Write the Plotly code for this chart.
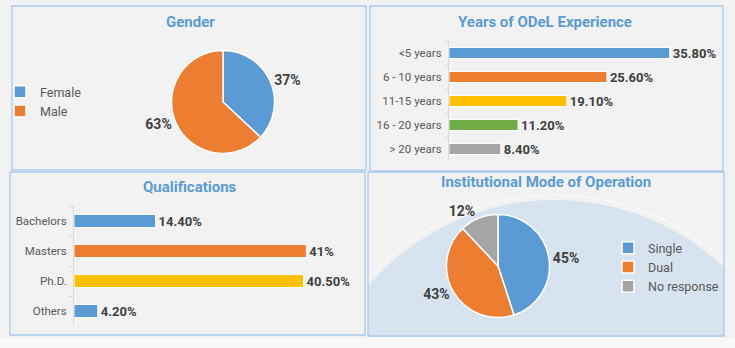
import numpy as np
import plotly.graph_objects as go

W, H = 735, 348

# ---- data ----
gender_labels = ["Female", "Male"]
gender_values = [37, 63]

years_cats = ["<5 years", "6 - 10 years", "11-15 years", "16 - 20 years", "> 20 years"]
years_vals = [35.80, 25.60, 19.10, 11.20, 8.40]

qual_cats = ["Bachelors", "Masters", "Ph.D.", "Others"]
qual_vals = [14.40, 41, 40.50, 4.20]

mode_labels = ["Single", "Dual", "No response"]
mode_values = [45, 43, 12]

# ---- styling ----
BLUE, ORANGE, GOLD, GREEN, GREY = "#5b9bd5", "#ed7d31", "#ffc000", "#70ad47", "#a5a5a5"
BG = "#f2f2f2"
BORDER = "#a9c9ea"
TITLE_C = "#5b9bd5"
LABEL_C = "#404040"
TICK_C = "#595959"
FONT = "Roboto"


def fx(p):
    return p / W


def fy(p):
    return 1 - p / H


def pct(v):
    return f"{v:g}%" if float(v).is_integer() else f"{v:.2f}%"


fig = go.Figure()

# Gender pie
fig.add_trace(go.Pie(
    labels=gender_labels, values=gender_values,
    marker=dict(colors=[BLUE, ORANGE], line=dict(color="white", width=1.5)),
    sort=False, direction="clockwise", rotation=0,
    text=[pct(v) for v in gender_values], textinfo="text",
    textposition="outside",
    textfont=dict(family=FONT, size=14, color=LABEL_C, weight="bold"),
    domain=dict(x=[fx(171.5), fx(274.5)], y=[fy(153.5), fy(50.5)]),
    legend="legend", hoverinfo="label+percent",
))

# Institutional mode pie
fig.add_trace(go.Pie(
    labels=mode_labels, values=mode_values,
    marker=dict(colors=[BLUE, ORANGE, GREY], line=dict(color="white", width=1.5)),
    sort=False, direction="clockwise", rotation=0,
    text=[pct(v) for v in mode_values], textinfo="text",
    textposition="outside",
    textfont=dict(family=FONT, size=14, color=LABEL_C, weight="bold"),
    domain=dict(x=[fx(446.5), fx(549.5)], y=[fy(317.5), fy(214.5)]),
    legend="legend2", hoverinfo="label+percent",
))

# Years of ODeL experience bars
fig.add_trace(go.Bar(
    y=years_cats, x=years_vals, orientation="h", width=0.46,
    marker=dict(color=[BLUE, ORANGE, GOLD, GREEN, GREY], line=dict(color="white", width=1)),
    text=[pct(v) for v in years_vals], textposition="outside", cliponaxis=False,
    constraintext="none",
    textfont=dict(family=FONT, size=13, color=LABEL_C, weight="bold"),
    xaxis="x", yaxis="y", showlegend=False,
))

# Qualifications bars
fig.add_trace(go.Bar(
    y=qual_cats, x=qual_vals, orientation="h", width=0.44,
    marker=dict(color=[BLUE, ORANGE, GOLD, BLUE], line=dict(color="white", width=1)),
    text=[pct(v) for v in qual_vals], textposition="outside", cliponaxis=False,
    constraintext="none",
    textfont=dict(family=FONT, size=13, color=LABEL_C, weight="bold"),
    xaxis="x2", yaxis="y2", showlegend=False,
))

cat_axis = dict(
    autorange="reversed", showline=True, linecolor="#d9d9d9", linewidth=1,
    ticks="outside", tickson="boundaries", ticklen=4, tickcolor="#d9d9d9",
    tickfont=dict(family=FONT, size=11.5, color=TICK_C), ticklabelstandoff=4,
    showgrid=False, zeroline=False, fixedrange=True,
)
val_axis = dict(visible=False, showgrid=False, zeroline=False, fixedrange=True)

# ---- decorative blue dome behind the lower-right panel ----
cx, cy, R = 555, 446, 246
x0, x1, ybot = 368, 724, 336
xs = np.linspace(x0, x1, 120)
ys = cy - np.sqrt(R ** 2 - (xs - cx) ** 2)
pts = [(x0, ybot)] + list(zip(xs, ys)) + [(x1, ybot)]
dome = "M " + " L ".join(f"{fx(a):.5f},{fy(b):.5f}" for a, b in pts) + " Z"
arc_r = R + 5
xs2 = np.linspace(x0 + 8, x1, 120)
ys2 = cy - np.sqrt(np.clip(arc_r ** 2 - (xs2 - cx) ** 2, 0, None))
arc = "M " + " L ".join(f"{fx(a):.5f},{fy(b):.5f}" for a, b in zip(xs2, ys2) if b < ybot)

shapes = [
    dict(type="rect", xref="paper", yref="paper", x0=0, x1=1, y0=0, y1=fy(338),
         fillcolor="#f8f8f8", line=dict(width=0), layer="below"),
    dict(type="path", xref="paper", yref="paper", path=dome,
         fillcolor="rgba(160,198,234,0.32)", line=dict(width=0), layer="below"),
    dict(type="path", xref="paper", yref="paper", path=arc,
         line=dict(color="rgba(255,255,255,0.8)", width=1), layer="below"),
]
panels = [(12, 6, 366, 170), (370, 6, 723, 171), (10, 172, 365, 335), (368, 172, 724, 336)]
for a, b, c, d in panels:
    shapes.append(dict(type="rect", xref="paper", yref="paper",
                       x0=fx(a), x1=fx(c), y0=fy(d), y1=fy(b),
                       line=dict(color=BORDER, width=1.3), layer="below"))

titles = [("Gender", 190, 22), ("Years of ODeL Experience", 545, 22),
          ("Qualifications", 190, 187), ("Institutional Mode of Operation", 546, 182)]
annotations = [
    dict(text=t, x=fx(x), y=fy(y), xref="paper", yref="paper", showarrow=False,
         xanchor="center", yanchor="middle",
         font=dict(family=FONT, size=15, color=TITLE_C, weight="bold"))
    for t, x, y in titles
]

legend_style = dict(font=dict(family=FONT, size=12.5, color=TICK_C),
                    bgcolor="rgba(0,0,0,0)", borderwidth=0,
                    xanchor="left", yanchor="top", tracegroupgap=0)

fig.update_layout(
    width=W, height=H, margin=dict(l=0, r=0, t=0, b=0),
    paper_bgcolor=BG, plot_bgcolor="rgba(0,0,0,0)",
    font=dict(family=FONT),
    xaxis=dict(domain=[fx(449), fx(700)], range=[0, 40.7], anchor="y", **val_axis),
    yaxis=dict(domain=[fy(161), fy(41)], anchor="x", **cat_axis),
    xaxis2=dict(domain=[fx(74), fx(350)], range=[0, 48.7], anchor="y2", **val_axis),
    yaxis2=dict(domain=[fy(326), fy(206)], anchor="x2", **cat_axis),
    legend=dict(x=fx(0), y=fy(77), **legend_style),
    legend2=dict(x=fx(608), y=fy(233), **legend_style),
    shapes=shapes, annotations=annotations,
)

fig.write_html("out.html")
